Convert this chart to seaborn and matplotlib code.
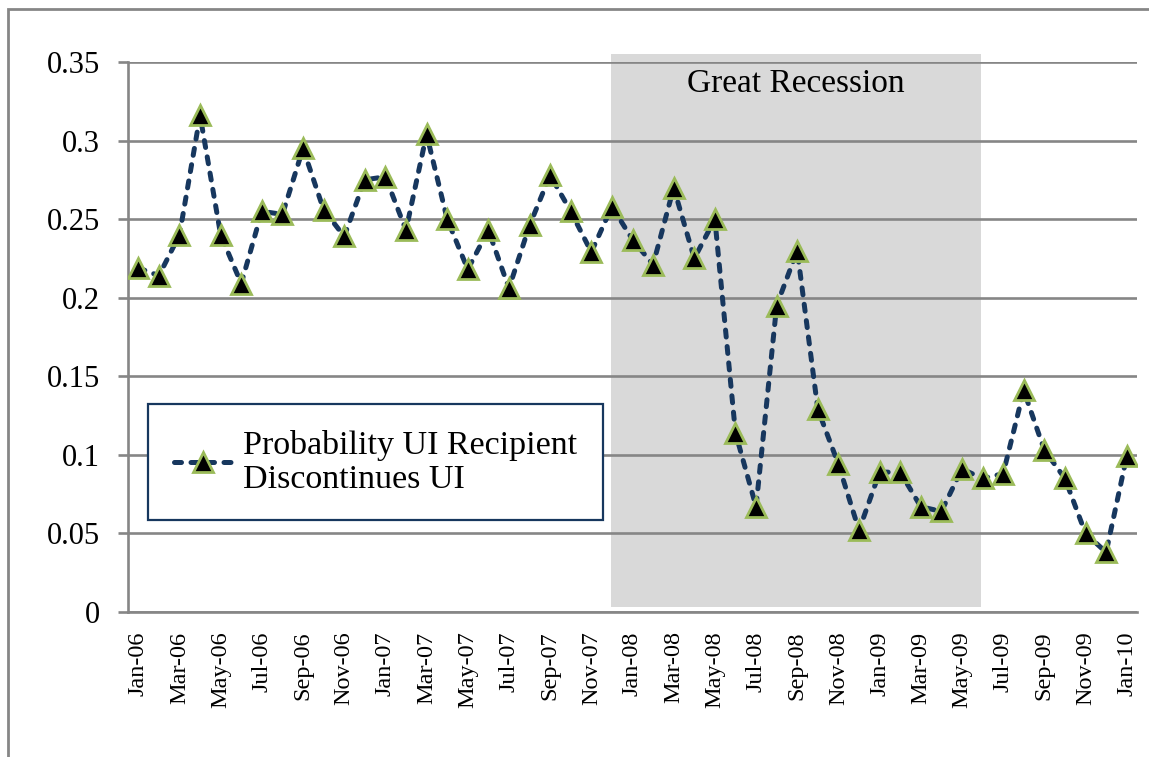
import matplotlib

matplotlib.use("Agg")
import matplotlib.pyplot as plt
import numpy as np
import pandas as pd
import seaborn as sns
from matplotlib.patches import Rectangle

# monthly values, Jan-06 .. Jan-10
months = pd.date_range("2006-01-01", "2010-01-01", freq="MS").strftime("%b-%y").tolist()
prob_discontinue = [
    0.219, 0.214, 0.240, 0.316, 0.240, 0.209, 0.255, 0.253, 0.295, 0.256, 0.239, 0.275,
    0.277, 0.243, 0.304, 0.250, 0.218, 0.243, 0.206, 0.246, 0.278, 0.255, 0.229, 0.258,
    0.237, 0.221, 0.270, 0.225, 0.250, 0.114, 0.067, 0.195, 0.230, 0.129, 0.094, 0.052,
    0.089, 0.089, 0.067, 0.064, 0.091, 0.085, 0.088, 0.141, 0.103, 0.085, 0.050, 0.038,
    0.099,
]
yticks = [0, 0.05, 0.1, 0.15, 0.2, 0.25, 0.3, 0.35]
ytick_labels = ["0", "0.05", "0.1", "0.15", "0.2", "0.25", "0.3", "0.35"]
recession_start, recession_end = 22.96, 40.93  # category positions of shaded band

df = pd.DataFrame({"idx": np.arange(len(months)), "prob": prob_discontinue})

sns.set_style("white")
plt.rcParams["font.family"] = ["Liberation Serif", "DejaVu Serif"]
plt.rcParams["text.color"] = "black"
plt.rcParams["xtick.labelcolor"] = "black"
plt.rcParams["ytick.labelcolor"] = "black"

grey = "#868686"
navy = "#17375E"
green = "#9BBB59"

fig = plt.figure(figsize=(11.49, 7.57), dpi=100)
ax = fig.add_axes([128 / 1149, 1 - 612 / 757, 1009 / 1149, 550 / 757])

# outer chart frame
fig.patches.append(
    Rectangle((7.5 / 1149, -0.05), 1.1, 1 - 9 / 757 + 0.05, transform=fig.transFigure,
              fill=False, edgecolor=grey, linewidth=2, zorder=0)
)

# shaded recession period
ax.add_patch(
    Rectangle((recession_start, 0.003), recession_end - recession_start, 0.352,
              facecolor="#D9D9D9", edgecolor="none", zorder=0, clip_on=False)
)
ax.text((recession_start + recession_end) / 2, 0.336, "Great Recession",
        ha="center", va="center", fontsize=24, zorder=1)

sns.lineplot(
    data=df, x="idx", y="prob", ax=ax, color=navy, linewidth=3.6,
    linestyle=(0, (1.4, 1.9)), dash_capstyle="round",
    marker="^", markersize=14.5, markerfacecolor="black",
    markeredgecolor=green, markeredgewidth=2,
    label="Probability UI Recipient\nDiscontinues UI", zorder=3,
)

ax.set_xlim(-0.5, len(months) - 0.5)
ax.set_ylim(0, 0.35)
ax.set_xlabel("")
ax.set_ylabel("")

ax.set_yticks(yticks)
ax.set_yticklabels(ytick_labels, fontsize=22)
ax.set_xticks(np.arange(0, len(months), 2))
ax.set_xticklabels(months[::2], rotation=90, fontsize=17.5)
ax.set_xticks(np.arange(-0.5, len(months) - 1, 2), minor=True)
ax.tick_params(axis="x", which="major", length=0, pad=14)
ax.tick_params(axis="x", which="minor", length=7, width=1.9, color=grey, direction="out")
ax.tick_params(axis="y", which="major", length=7, width=1.9, color=grey, pad=13,
               direction="out", left=True)

ax.yaxis.grid(True, color=grey, linewidth=1.9, zorder=1)
ax.xaxis.grid(False)
ax.set_axisbelow(False)
for s in ["top", "right"]:
    ax.spines[s].set_visible(False)
for s in ["left", "bottom"]:
    ax.spines[s].set_color(grey)
    ax.spines[s].set_linewidth(1.9)
    ax.spines[s].set_zorder(2)
for gl in ax.get_ygridlines():
    gl.set_zorder(1)

leg = ax.legend(
    loc="upper left", bbox_to_anchor=(148 / 1149, 1 - 404 / 757),
    bbox_transform=fig.transFigure, borderaxespad=0, fontsize=24.5,
    frameon=True, fancybox=False, borderpad=0.75, handlelength=1.75,
    handletextpad=0.3, labelspacing=0.2,
)
for t in leg.get_texts():
    t.set_linespacing(1.15)
leg.get_frame().set_edgecolor(navy)
leg.get_frame().set_linewidth(1.6)
leg.get_frame().set_facecolor("white")
leg.get_frame().set_alpha(1)
leg.set_zorder(5)

fig.savefig("out.png", dpi=100)
